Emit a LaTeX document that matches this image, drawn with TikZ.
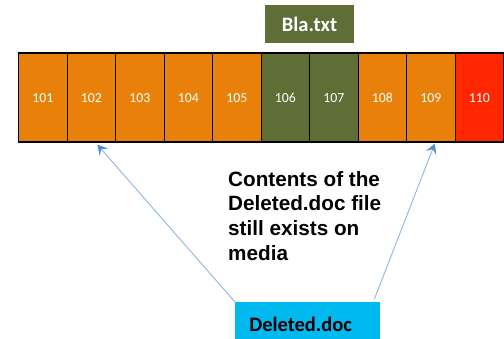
\documentclass[tikz,border=0pt]{standalone}
\usepackage{fontspec}
\setmainfont{Liberation Sans}
\newfontfamily\calib{Carlito}
\usetikzlibrary{arrows.meta,calc}
\definecolor{blkorange}{HTML}{E8800A}
\definecolor{blkolive}{HTML}{5F6E36}
\definecolor{blkred}{HTML}{FF2600}
\definecolor{filecyan}{HTML}{00B9EE}
\definecolor{ptrline}{HTML}{8FB5E0}
\definecolor{ptrhead}{HTML}{4F8ED3}
\tikzset{
  cell/.style={draw=black, line width=1.1pt, minimum width=48.5pt, minimum height=89pt,
    inner sep=0pt, anchor=north west, text=white, text height=9pt, text depth=0pt,
    font=\calib\fontsize{13.8}{16}\selectfont},
  label box/.style={inner sep=0pt, font=\calib\bfseries\fontsize{20.5}{24}\selectfont},
  pointer/.style={ptrline, line width=0.9pt,
    -{Stealth[length=10pt,width=11pt,inset=4pt,color=ptrhead]}}
}
\begin{document}
\begin{tikzpicture}[x=1pt,y=-1pt]
  \useasboundingbox (0,0) rectangle (504,339);
  \clip (0,0) rectangle (504,339);
  % disk blocks 101..110
  \foreach \n/\c [count=\i from 0] in {101/blkorange,102/blkorange,103/blkorange,104/blkorange,
      105/blkorange,106/blkolive,107/blkolive,108/blkorange,109/blkorange,110/blkred}
    \node[cell, fill=\c] (c\n) at ({18+48.5*\i},52.5) {\n};
  % file labels
  \node[label box, fill=blkolive, text=white, minimum width=89pt, minimum height=38pt]
    (bla) at (309.5,24) {Bla.txt};
  \node[label box, fill=filecyan, text=black, minimum width=145pt, minimum height=44pt,
    anchor=north west] (del) at (235,302) {\hspace*{-14pt}Deleted.doc};
  % caption
  \node[anchor=north west, inner sep=0pt, align=left,
    font=\bfseries\fontsize{20.7}{24.7}\selectfont] (note) at (228,171)
    {Contents of the\\Deleted.doc file\\still exists on\\media};
  % pointers from the deleted file to its former blocks
  \coordinate (t102) at ($(c102.south)+(6,2)$);
  \coordinate (t109) at ($(c109.south)+(4,1)$);
  \draw[pointer] (del.north west) -- (t102);
  \draw[pointer] ($(del.north east)+(-6,-3)$) -- (t109);
\end{tikzpicture}
\end{document}
